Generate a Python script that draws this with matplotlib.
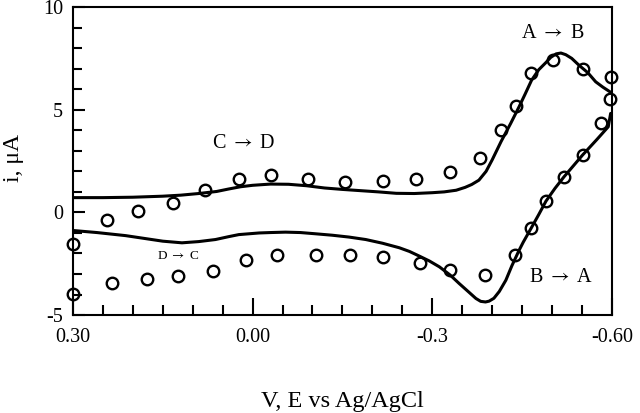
import matplotlib
matplotlib.use("Agg")
import matplotlib.pyplot as plt
from matplotlib.ticker import MultipleLocator, FixedLocator

plt.rcParams['font.family'] = ['Liberation Serif', 'DejaVu Serif']
plt.rcParams['mathtext.fontset'] = 'stix'

# Simulated curve: forward (upper) sweep, 0.30 -> -0.60 V
fwd_v = [0.30, 0.25, 0.20, 0.15, 0.12, 0.09, 0.06, 0.04, 0.02, 0.00, -0.03, -0.06,
         -0.09, -0.12, -0.15, -0.18, -0.21, -0.24, -0.27, -0.30, -0.32, -0.34, -0.355,
         -0.366, -0.378, -0.39, -0.40, -0.415, -0.431, -0.445, -0.455, -0.466, -0.478,
         -0.490, -0.498, -0.507, -0.515, -0.523, -0.533, -0.545, -0.56, -0.573,
         -0.585, -0.598]
fwd_i = [0.72, 0.72, 0.74, 0.79, 0.84, 0.92, 1.02, 1.14, 1.25, 1.32, 1.38, 1.37,
         1.30, 1.19, 1.12, 1.06, 1.00, 0.93, 0.92, 0.96, 1.00, 1.08, 1.22,
         1.36, 1.57, 2.00, 2.55, 3.45, 4.33, 5.14, 5.75, 6.44, 6.95,
         7.30, 7.55, 7.72, 7.76, 7.68, 7.50, 7.17, 6.80, 6.36,
         6.10, 5.85]

# Simulated curve: reverse (lower) sweep, -0.60 -> 0.30 V
rev_v = [-0.598, -0.594, -0.575, -0.551, -0.520, -0.505, -0.490, -0.478, -0.465,
         -0.452, -0.445, -0.433, -0.423, -0.412, -0.403, -0.395, -0.389, -0.381,
         -0.373, -0.36, -0.345, -0.33, -0.312, -0.295, -0.278, -0.262, -0.245,
         -0.217, -0.189, -0.161, -0.133, -0.105, -0.08, -0.055, -0.03, -0.011, 0.006,
         0.023, 0.04, 0.062, 0.09, 0.118, 0.15, 0.173, 0.212, 0.26, 0.30]
rev_i = [4.82, 4.17, 3.55, 2.79, 1.73, 1.17, 0.55, -0.10, -0.78,
         -1.45, -1.85, -2.60, -3.30, -3.85, -4.18, -4.32, -4.36, -4.33,
         -4.19, -3.85, -3.46, -3.05, -2.65, -2.36, -2.12, -1.90, -1.72,
         -1.50, -1.32, -1.20, -1.11, -1.04, -0.98, -0.96, -0.98, -1.00, -1.04,
         -1.08, -1.18, -1.32, -1.42, -1.48, -1.40, -1.30, -1.13, -0.98, -0.88]

# Experimental points (circles), forward sweep
exp_fwd_v = [0.30, 0.243, 0.192, 0.133, 0.079, 0.022, -0.031, -0.092, -0.155, -0.218,
             -0.273, -0.329, -0.380, -0.415, -0.440, -0.465, -0.501, -0.551, -0.598]
exp_fwd_i = [-1.56, -0.37, 0.08, 0.47, 1.09, 1.64, 1.82, 1.62, 1.49, 1.51,
             1.62, 1.95, 2.64, 4.01, 5.19, 6.80, 7.42, 6.98, 6.60]

# Experimental points (circles), reverse sweep
exp_rev_v = [-0.597, -0.582, -0.551, -0.520, -0.490, -0.465, -0.438, -0.388, -0.329,
             -0.279, -0.218, -0.163, -0.106, -0.041, 0.011, 0.066, 0.124, 0.177, 0.235, 0.30]
exp_rev_i = [5.50, 4.33, 2.79, 1.73, 0.55, -0.78, -2.08, -3.05, -2.78,
             -2.45, -2.19, -2.08, -2.08, -2.08, -2.30, -2.87, -3.11, -3.23, -3.46, -3.98]

x_ticks_major = [0.30, 0.00, -0.30, -0.60]
x_tick_labels = ['0.30', '0.00', '-0.3', '-0.60']
y_ticks_major = [-5, 0, 5, 10]
y_tick_labels = ['-5', '0', '5', '10']

fig = plt.figure(figsize=(6.4, 4.13), dpi=100)
ax = fig.add_axes([0.114, 0.237, 0.842, 0.746])

ax.plot(fwd_v, fwd_i, color='black', lw=2.2, solid_capstyle='round',
        solid_joinstyle='round', zorder=2)
ax.plot(rev_v, rev_i, color='black', lw=2.2, solid_capstyle='round',
        solid_joinstyle='round', zorder=2)
ax.plot(exp_fwd_v, exp_fwd_i, linestyle='none', marker='o', ms=8.3, mfc='none',
        mec='black', mew=1.7, clip_on=False, zorder=3)
ax.plot(exp_rev_v, exp_rev_i, linestyle='none', marker='o', ms=8.3, mfc='none',
        mec='black', mew=1.7, clip_on=False, zorder=3)

ax.set_xlim(0.30, -0.60)
ax.set_ylim(-5, 10)

ax.xaxis.set_major_locator(FixedLocator(x_ticks_major))
ax.set_xticklabels(x_tick_labels)
ax.xaxis.set_minor_locator(MultipleLocator(0.05))
ax.yaxis.set_major_locator(FixedLocator(y_ticks_major))
ax.set_yticklabels(y_tick_labels)
ax.yaxis.set_minor_locator(MultipleLocator(1))

ax.tick_params(axis='x', which='major', direction='in', length=12, width=1.5,
               labelsize=14.5, pad=9, top=False)
ax.tick_params(axis='x', which='minor', direction='in', length=7.5, width=1.5, top=False)
ax.tick_params(axis='y', which='major', direction='in', length=8.5, width=1.5,
               labelsize=14.5, pad=7, right=False)
ax.tick_params(axis='y', which='minor', direction='in', length=6.5, width=1.5, right=False)

for s in ax.spines.values():
    s.set_linewidth(1.5)

ax.set_xlabel('V, E vs Ag/AgCl', fontsize=17.5)
ax.xaxis.set_label_coords(0.5, -0.245)
ax.set_ylabel('i, μA', fontsize=17)
ax.yaxis.set_label_coords(-0.09, 0.51)

arrow = r'$\rightarrow$'
ax.text(-0.502, 8.73, 'A ' + arrow + ' B', fontsize=14.5, ha='center', va='center')
ax.text(-0.515, -3.18, 'B ' + arrow + ' A', fontsize=14.5, ha='center', va='center')
ax.text(0.015, 3.36, 'C ' + arrow + ' D', fontsize=14.5, ha='center', va='center')
ax.text(0.125, -2.13, 'D ' + arrow + ' C', fontsize=9.5, ha='center', va='center')

fig.savefig('out.png', dpi=100)
